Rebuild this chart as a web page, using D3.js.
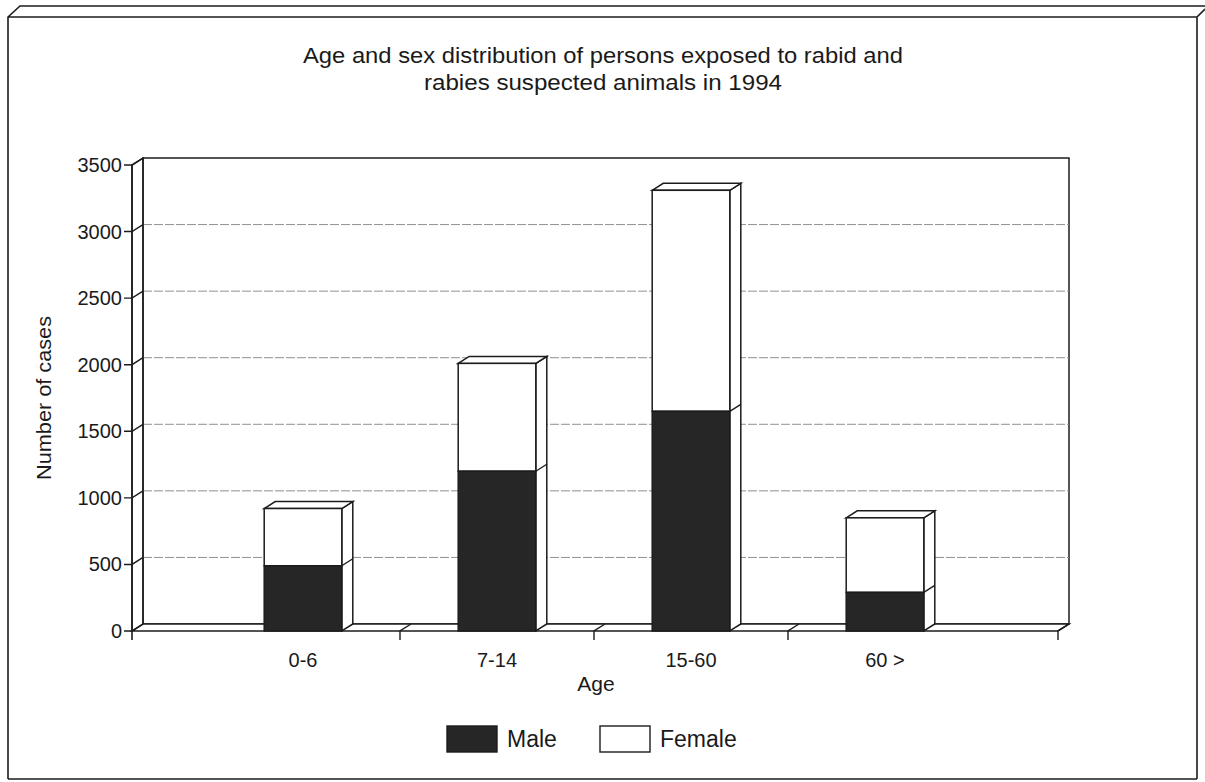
<!DOCTYPE html>
<html>
<head>
<meta charset="utf-8">
<script src="https://cdn.jsdelivr.net/npm/d3@7"></script>
<style>
  html, body { margin: 0; padding: 0; background: #fff; }
  svg { display: block; }
  text { font-family: "Liberation Sans", Arial, Helvetica, sans-serif; fill: #1a1a1a; }
</style>
</head>
<body>
<svg id="chart" width="1205" height="782"></svg>
<script>
// Age groups and counts of exposed persons, 1994
const categories = ["0-6", "7-14", "15-60", "60 >"];
const maleCases = [490, 1200, 1650, 290];
const femaleCases = [430, 810, 1660, 560];
const yTickValues = [0, 500, 1000, 1500, 2000, 2500, 3000, 3500];
const seriesNames = ["Male", "Female"];

const titleLines = [
  "Age and sex distribution of persons exposed to rabid and",
  "rabies suspected animals in 1994"
];

const svg = d3.select("#chart");
const ink = "#1c1c1c";
const maleFill = "#262626";

// depth offset of the pseudo-3D walls and bars
const DX = 11, DY = -7;

// plot frame (front plane)
const left = 132, right = 1058;
const y = d3.scaleLinear().domain([0, 3500]).range([631, 165]);
const x = d3.scaleBand().domain(categories)
  .range([206, 982]).paddingInner(0.6).paddingOuter(0.3);

// outer page frame with a bevelled top edge
svg.append("path")
  .attr("d", "M8,779 L8,17 L20,6 L1205,6 M8,17 L1197,17 L1205,9 M1197,17 L1197,779 M8,779 L1197,779")
  .attr("fill", "none").attr("stroke", ink).attr("stroke-width", 1.6);

// title
svg.append("g").selectAll("text").data(titleLines).join("text")
  .attr("x", 603).attr("y", (d, i) => 63 + i * 27)
  .attr("text-anchor", "middle")
  .attr("font-size", 22)
  .attr("textLength", (d, i) => i === 0 ? 600 : 358)
  .attr("lengthAdjust", "spacingAndGlyphs")
  .text(d => d);

const y0 = y(0), yTop = y(3500);

// back wall
svg.append("rect")
  .attr("x", left + DX).attr("y", yTop + DY)
  .attr("width", right - left).attr("height", y0 - yTop)
  .attr("fill", "#fff").attr("stroke", ink).attr("stroke-width", 1.5);

// gridlines on the back wall
svg.append("g").selectAll("line").data(yTickValues.filter(v => v > 0 && v < 3500)).join("line")
  .attr("x1", left + DX).attr("x2", right + DX)
  .attr("y1", d => y(d) + DY).attr("y2", d => y(d) + DY)
  .attr("stroke", "#8f8f8f").attr("stroke-width", 1)
  .attr("stroke-dasharray", "9,2");

// left wall
svg.append("path")
  .attr("d", `M${left},${y0} L${left},${yTop} L${left + DX},${yTop + DY} L${left + DX},${y0 + DY}`)
  .attr("fill", "none").attr("stroke", ink).attr("stroke-width", 1.5);

// floor
svg.append("path")
  .attr("d", `M${left},${y0} L${right},${y0} L${right + DX},${y0 + DY} L${left + DX},${y0 + DY} Z`)
  .attr("fill", "#fff").attr("stroke", ink).attr("stroke-width", 1.5);

// y axis ticks: short outward mark plus a slanted edge onto the wall
const yAxis = svg.append("g");
yAxis.append("line")
  .attr("x1", left).attr("x2", left).attr("y1", yTop).attr("y2", y0 + 9)
  .attr("stroke", ink).attr("stroke-width", 1.6);
yAxis.selectAll("path.tk").data(yTickValues).join("path")
  .attr("class", "tk")
  .attr("d", d => `M${left - 8},${y(d)} L${left},${y(d)} L${left + DX},${y(d) + DY}`)
  .attr("fill", "none").attr("stroke", ink).attr("stroke-width", 1.4);
yAxis.selectAll("text").data(yTickValues).join("text")
  .attr("x", left - 10).attr("y", d => y(d) + 7)
  .attr("text-anchor", "end").attr("font-size", 20)
  .text(d => d);

// y axis title
svg.append("text")
  .attr("transform", `translate(51,${(y0 + yTop) / 2}) rotate(-90)`)
  .attr("text-anchor", "middle").attr("font-size", 20)
  .attr("textLength", 164).attr("lengthAdjust", "spacingAndGlyphs")
  .text("Number of cases");

// stacked bars with depth
const stackData = categories.map((c, i) => ({ cat: c, male: maleCases[i], female: femaleCases[i] }));
const bars = svg.append("g").selectAll("g").data(stackData).join("g");

bars.each(function (d) {
  const g = d3.select(this);
  const x0 = x(d.cat), x1 = x0 + x.bandwidth();
  const ym = y(d.male), yt = y(d.male + d.female);
  // side face
  g.append("path")
    .attr("d", `M${x1},${yt} L${x1 + DX},${yt + DY} L${x1 + DX},${y0 + DY} L${x1},${y0} Z`)
    .attr("fill", "#fff").attr("stroke", ink).attr("stroke-width", 1.5);
  g.append("line")
    .attr("x1", x1).attr("y1", ym).attr("x2", x1 + DX).attr("y2", ym + DY)
    .attr("stroke", ink).attr("stroke-width", 1.4);
  // top face
  g.append("path")
    .attr("d", `M${x0},${yt} L${x0 + DX},${yt + DY} L${x1 + DX},${yt + DY} L${x1},${yt} Z`)
    .attr("fill", "#fff").attr("stroke", ink).attr("stroke-width", 1.5);
  // female (upper) front
  g.append("rect")
    .attr("x", x0).attr("y", yt).attr("width", x1 - x0).attr("height", ym - yt)
    .attr("fill", "#fff").attr("stroke", ink).attr("stroke-width", 1.5);
  // male (lower) front
  g.append("rect")
    .attr("x", x0).attr("y", ym).attr("width", x1 - x0).attr("height", y0 - ym)
    .attr("fill", maleFill).attr("stroke", ink).attr("stroke-width", 1.5);
});

// x axis ticks between groups and at the axis end
const step = x.step();
const xTickPositions = categories.slice(1).map(c => x(c) - (step - x.bandwidth()) / 2).concat([right]);
svg.append("g").selectAll("path").data(xTickPositions).join("path")
  .attr("d", p => `M${p},${y0 + 9} L${p},${y0} L${p + DX},${y0 + DY}`)
  .attr("fill", "none").attr("stroke", ink).attr("stroke-width", 1.4);

svg.append("g").selectAll("text").data(categories).join("text")
  .attr("x", d => x(d) + x.bandwidth() / 2).attr("y", 667)
  .attr("text-anchor", "middle").attr("font-size", 20)
  .text(d => d);

svg.append("text")
  .attr("x", 596).attr("y", 691)
  .attr("text-anchor", "middle").attr("font-size", 21)
  .text("Age");

// legend
const legendX = [447, 600];
const legend = svg.append("g").selectAll("g").data(seriesNames).join("g")
  .attr("transform", (d, i) => `translate(${legendX[i]},726)`);
legend.append("rect")
  .attr("width", 50).attr("height", 26)
  .attr("fill", (d, i) => i === 0 ? maleFill : "#fff")
  .attr("stroke", ink).attr("stroke-width", 1.4);
legend.append("text")
  .attr("x", 60).attr("y", 21).attr("font-size", 23)
  .text(d => d);
</script>
</body>
</html>
